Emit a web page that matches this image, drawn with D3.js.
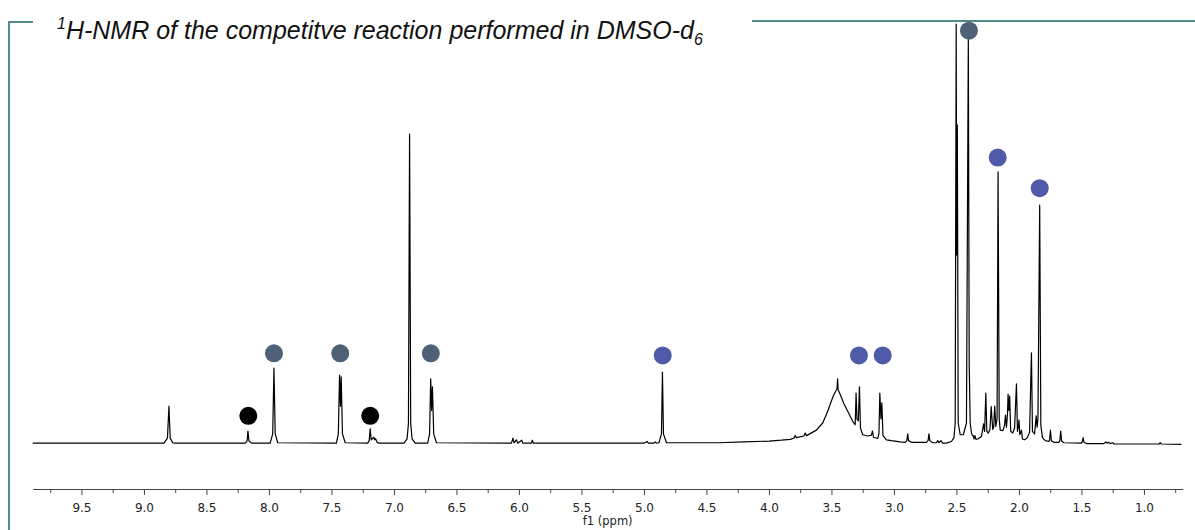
<!DOCTYPE html>
<html>
<head>
<meta charset="utf-8">
<script src="https://cdn.jsdelivr.net/npm/d3@7"></script>
<style>
  body { margin: 0; background: #fff; }
  .tick text { font-family: "DejaVu Sans", Verdana, sans-serif; font-size: 12px; fill: #222; }
  .labelText { font-family: "DejaVu Sans", Verdana, sans-serif; font-size: 11.5px; fill: #222; }
  .title { font-family: "Liberation Sans", Arial, sans-serif; font-style: italic; font-size: 25px; fill: #111; }
</style>
</head>
<body>
<div id="nmr"></div>
<script>
// spectrum trace: [ppm, intensity], intensity 100 = DMSO top
var spectrum = [
  [9.89,0.2],[8.84,0.2],[8.812,1.4],[8.80,9.0],[8.79,1.4],[8.77,0.3],[8.75,0.2],
  [8.19,0.2],[8.175,0.7],[8.168,3.1],[8.16,0.7],[8.14,0.2],
  [7.99,0.2],[7.97,2.4],[7.96,18.1],[7.95,2.4],[7.93,0.3],
  [7.46,0.2],[7.445,2.4],[7.435,16.4],[7.428,9],[7.422,16.0],[7.412,2.4],[7.39,0.3],
  [7.21,0.2],[7.198,0.8],[7.19,3.6],[7.182,1.0],[7.162,1.6],[7.155,1.0],[7.148,1.3],[7.135,0.4],[7.12,0.2],
  [6.92,0.2],[6.895,1.2],[6.884,5],[6.875,73.8],[6.866,5],[6.855,1.2],[6.83,0.2],
  [6.73,0.2],[6.715,2.4],[6.706,15.5],[6.699,8],[6.692,13.6],[6.682,2.4],[6.66,0.3],
  [6.06,0.2],[6.048,1.4],[6.04,0.3],[6.02,1.0],[6.01,0.2],[5.978,0.9],[5.97,0.2],[5.90,0.2],[5.893,0.9],[5.885,0.2],
  [5.00,0.2],[4.975,0.6],[4.965,0.2],[4.92,0.2],[4.91,0.5],[4.90,0.2],
  [4.88,0.3],[4.86,2.4],[4.852,17.1],[4.844,2.4],[4.82,0.3],
  [4.40,0.3],[4.20,0.5],[4.00,0.7],[3.90,0.9],[3.83,1.1],[3.80,1.4],[3.79,2.0],[3.78,1.5],[3.72,1.9],[3.71,2.6],[3.70,2.0],
  [3.62,3.3],[3.57,5.0],[3.53,7.8],[3.50,10.3],[3.48,11.8],[3.462,12.8],[3.455,13.2],[3.451,15.5],[3.447,13.0],
  [3.43,11.8],[3.40,9.6],[3.36,7.2],[3.33,5.4],[3.31,4.6],
  [3.303,12.1],[3.296,6.0],[3.285,5.5],[3.276,13.6],[3.268,3.8],[3.25,2.2],[3.21,1.9],[3.18,2.1],[3.172,3.1],[3.164,1.6],
  [3.13,1.3],[3.12,2.5],[3.113,12.1],[3.104,6.0],[3.097,9.8],[3.088,2.0],[3.06,1.0],[3.02,0.8],[2.95,0.5],
  [2.91,0.4],[2.897,0.8],[2.89,2.4],[2.883,0.8],[2.86,0.4],
  [2.74,0.4],[2.727,0.8],[2.72,2.4],[2.713,0.8],[2.69,0.3],
  [2.66,0.3],[2.65,0.8],[2.64,0.3],[2.625,0.8],[2.61,0.2],[2.58,0.2],
  [2.54,0.6],[2.52,1.5],[2.51,5],[2.502,100],[2.498,45],[2.493,76],[2.486,5],[2.47,2.2],[2.445,2.2],
  [2.42,5],[2.405,96.5],[2.398,19],[2.39,5],[2.38,2.6],[2.372,2.0],[2.365,2.0],[2.36,1.2],[2.352,2.0],[2.344,1.1],[2.33,1.2],
  [2.30,1.8],[2.29,3.5],[2.283,4.8],[2.275,3.0],[2.265,12.1],[2.257,3.0],[2.245,2.6],[2.232,3.5],[2.222,8.9],[2.21,3.5],
  [2.202,4.0],[2.194,9.0],[2.185,4.2],[2.175,6],[2.167,64.8],[2.158,6],[2.15,3.3],[2.128,3.2],[2.115,4.5],[2.108,6.9],
  [2.10,4.0],[2.092,7],[2.087,11.9],[2.081,8],[2.074,11.4],[2.066,3.0],[2.05,2.6],[2.035,3.8],[2.02,14.3],[2.012,3.0],
  [2.005,4],[2.0,5.7],[1.993,2.2],[1.98,3.3],[1.972,1.2],[1.955,1.0],[1.935,1.4],[1.915,2.8],[1.90,21.7],[1.892,3.0],
  [1.875,2.4],[1.862,6.7],[1.855,4],[1.848,6],[1.834,56.9],[1.825,4.5],[1.812,1.5],[1.79,0.8],
  [1.76,0.6],[1.755,1.0],[1.748,3.3],[1.741,0.8],[1.72,0.4],
  [1.68,0.4],[1.673,0.8],[1.666,3.1],[1.659,0.7],[1.64,0.3],
  [1.50,0.2],[1.494,0.5],[1.487,1.5],[1.48,0.4],[1.46,0.1],
  [1.32,0.1],[1.305,0.5],[1.295,0.2],[1.285,0.4],[1.27,0.1],[1.25,0.3],[1.24,0.0],
  [0.88,0.0],[0.87,0.3],[0.86,0.0],[0.70,-0.1]
];

// assignment dots
var markerPpm   = [8.165, 7.19, 7.96, 7.43, 6.705, 2.40, 4.85, 3.28, 3.09, 2.17, 1.834];
var markerLevel = [6.7, 6.7, 21.6, 21.6, 21.6, 98.4, 21.1, 21.1, 21.1, 68.2, 60.9];
var markerGroup = ["black", "black", "slate", "slate", "slate", "slate", "blue", "blue", "blue", "blue", "blue"];

var majorTicks = [9.5, 9.0, 8.5, 8.0, 7.5, 7.0, 6.5, 6.0, 5.5, 5.0, 4.5, 4.0, 3.5, 3.0, 2.5, 2.0, 1.5, 1.0];
var minorTicks = [9.75, 9.25, 8.75, 8.25, 7.75, 7.25, 6.75, 6.25, 5.75, 5.25, 4.75, 4.25, 3.75, 3.25, 2.75, 2.25, 1.75, 1.25, 0.75];

var groupColor = { black: "#000000", slate: "#4e6176", blue: "#4f5aa8" };
var frameColor = "#4f8b8b";

var width = 1195, height = 530;

var svg = d3.select("#nmr")
  .append("svg")
    .attr("width", width)
    .attr("height", height);

var x = d3.scaleLinear()
  .domain([9.89, 0.69])
  .range([32.7, 1182.7]);

var y = d3.scaleLinear()
  .domain([0, 100])
  .range([444, 24]);

// teal frame
svg.append("path")
  .attr("d", "M33,22H9V530")
  .attr("fill", "none")
  .attr("stroke", frameColor)
  .attr("stroke-width", 2);
svg.append("line")
  .attr("x1", 752).attr("x2", 1195)
  .attr("y1", 21).attr("y2", 21)
  .attr("stroke", frameColor)
  .attr("stroke-width", 2);

// title
var title = svg.append("text")
  .attr("class", "title")
  .attr("x", 57)
  .attr("y", 39);
title.append("tspan").text("1").attr("font-size", "16px").attr("dy", -10);
title.append("tspan").text("H-NMR of the competitve reaction performed in DMSO-d").attr("dy", 10);
title.append("tspan").text("6").attr("font-size", "16px").attr("dy", 6);

// axis
var axisY = 489;
svg.append("g")
  .attr("transform", "translate(0," + axisY + ")")
  .call(d3.axisBottom(x).tickValues(minorTicks).tickSize(4).tickFormat(""))
  .call(function (g) { g.select(".domain").remove(); })
  .selectAll("line").attr("stroke", "#444");

var xAxis = svg.append("g")
  .attr("transform", "translate(0," + axisY + ")")
  .call(d3.axisBottom(x).tickValues(majorTicks).tickSize(6).tickPadding(8).tickSizeOuter(0)
    .tickFormat(d3.format(".1f")));
xAxis.select(".domain").attr("stroke", "#444");
xAxis.selectAll(".tick line").attr("stroke", "#444");

svg.append("text")
  .attr("x", (x.range()[0] + x.range()[1]) / 2)
  .attr("y", 525)
  .attr("text-anchor", "middle")
  .text("f1 (ppm)")
  .classed("labelText", true);

// spectrum
var line = d3.line()
  .x(function (d) { return x(d[0]); })
  .y(function (d) { return y(d[1]); });

svg.append("path")
  .datum(spectrum)
  .attr("d", line)
  .attr("fill", "none")
  .attr("stroke", "#000")
  .attr("stroke-width", 1.2)
  .attr("stroke-linejoin", "round");

// dots
svg.selectAll("circle.mark")
  .data(markerPpm)
  .enter()
  .append("circle")
    .attr("class", "mark")
    .attr("cx", function (d) { return x(d); })
    .attr("cy", function (d, i) { return y(markerLevel[i]); })
    .attr("r", 9)
    .attr("fill", function (d, i) { return groupColor[markerGroup[i]]; });
</script>
</body>
</html>
